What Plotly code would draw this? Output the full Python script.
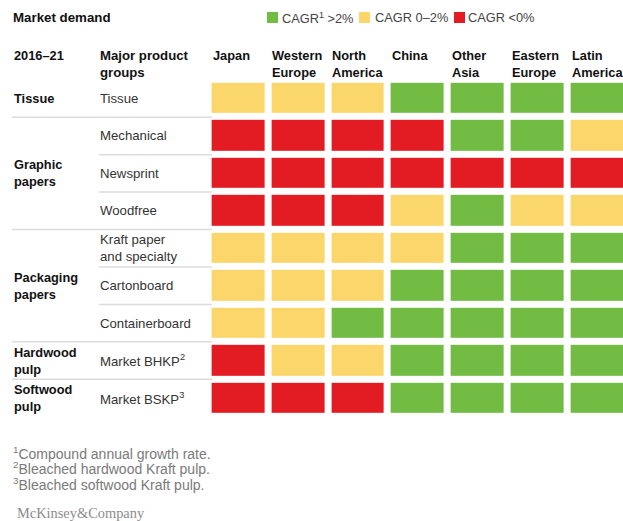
import plotly.graph_objects as go

W, H = 623, 521

# Market demand outlook 2016-21, by product group and region
regions = ["Japan", "Western<br>Europe", "North<br>America", "China",
           "Other<br>Asia", "Eastern<br>Europe", "Latin<br>America"]
products = ["Tissue", "Mechanical", "Newsprint", "Woodfree",
            "Kraft paper<br>and specialty", "Cartonboard", "Containerboard",
            "Market BHKP<sup>2</sup>", "Market BSKP<sup>3</sup>"]
groups = [("Tissue", 0), ("Graphic<br>papers", 2), ("Packaging<br>papers", 5),
          ("Hardwood<br>pulp", 7), ("Softwood<br>pulp", 8)]

# growth class: 0 = CAGR <0%, 1 = CAGR 0-2%, 2 = CAGR >2%
demand = [
    [1, 1, 1, 2, 2, 2, 2],  # Tissue
    [0, 0, 0, 0, 2, 2, 1],  # Mechanical
    [0, 0, 0, 0, 0, 0, 0],  # Newsprint
    [0, 0, 0, 1, 2, 1, 1],  # Woodfree
    [1, 1, 1, 1, 2, 2, 2],  # Kraft paper and specialty
    [1, 1, 1, 2, 2, 2, 2],  # Cartonboard
    [1, 1, 2, 2, 2, 2, 2],  # Containerboard
    [0, 1, 1, 2, 2, 2, 2],  # Market BHKP
    [0, 0, 0, 2, 2, 2, 2],  # Market BSKP
]
legend_labels = ["CAGR<sup>1</sup> >2%", "CAGR 0–2%", "CAGR <0%"]
footnotes = ["<sup>1</sup>Compound annual growth rate.",
             "<sup>2</sup>Bleached hardwood Kraft pulp.",
             "<sup>3</sup>Bleached softwood Kraft pulp."]

RED, YELLOW, GREEN = "#E31B23", "#FAD66B", "#72BC44"
FONT = "Liberation Sans, Arial, sans-serif"

# pixel layout of the grid
col_pitch = 59.83
row_pitch = 37.44
x0_center = 238.5
y0_center = 98.5
grid_left = x0_center - 0.5 * col_pitch
grid_top = y0_center - 0.5 * row_pitch
grid_bottom = grid_top + len(products) * row_pitch
x_range_right = (W - x0_center) / col_pitch


def px(x):
    return x / W


def py(y):
    return 1 - y / H


fig = go.Figure()
fig.add_trace(go.Heatmap(
    z=demand,
    x=list(range(len(regions))),
    y=list(range(len(products))),
    zmin=0, zmax=2,
    colorscale=[[0, RED], [0.333, RED], [0.333, YELLOW], [0.667, YELLOW],
                [0.667, GREEN], [1, GREEN]],
    showscale=False,
    xgap=7, ygap=7,
    hoverinfo="skip",
))

annotations = []
shapes = []


def label(text, x, y, xref="paper", yref="paper", yanchor="middle", size=13,
          color="#333", family=FONT):
    annotations.append(dict(text=text, x=x, y=y, xref=xref, yref=yref,
                            xanchor="left", yanchor=yanchor, showarrow=False,
                            align="left", borderpad=0,
                            font=dict(size=size, color=color, family=family)))


# title and legend
label("<b>Market demand</b>", px(12), py(17.5), size=13.3, color="#111")
legend_pos = [(267, 281, GREEN), (359, 374, YELLOW), (454, 467, RED)]
for (sx, tx, col), lab in zip(legend_pos, legend_labels):
    shapes.append(dict(type="rect", xref="paper", yref="paper",
                       x0=px(sx), x1=px(sx + 11), y0=py(23), y1=py(12),
                       fillcolor=col, line=dict(width=0)))
    label(lab, px(tx), py(17.5), size=12.8, color="#444")

# header row
label("<b>2016–21</b>", px(12.5), py(47), yanchor="top", size=12.8, color="#111")
label("<b>Major product<br>groups</b>", px(98.5), py(47), yanchor="top", size=13.2,
      color="#111")
for i, r in enumerate(regions):
    label(f"<b>{r}</b>", i - 0.45, py(47), xref="x", yanchor="top", size=12.8,
          color="#111")

# row labels
for j, p in enumerate(products):
    label(p, px(98.5), j, yref="y", size=13.2, color="#333")
for g, j in groups:
    label(f"<b>{g}</b>", px(12.5), j, yref="y", size=12.8, color="#111")

# separators: full width between groups, short between products in a group
for b in [0.5, 3.5, 6.5, 7.5]:
    shapes.append(dict(type="line", xref="paper", yref="y", x0=px(12), x1=px(212),
                       y0=b, y1=b, line=dict(color="#dcdcdc", width=1.5)))
for b in [1.5, 2.5, 4.5, 5.5]:
    shapes.append(dict(type="line", xref="paper", yref="y", x0=px(99), x1=px(212),
                       y0=b, y1=b, line=dict(color="#dcdcdc", width=1.5)))

# footnotes and source
for k, f in enumerate(footnotes):
    label(f, px(11.5), py(452.5 + 15.8 * k), size=14, color="#7a7a7a")
label("McKinsey&amp;Company", px(16), py(513), size=14.4, color="#8c8c8c",
      family="Liberation Serif, Times New Roman, serif")

fig.update_layout(
    width=W, height=H,
    margin=dict(l=0, r=0, t=0, b=0),
    paper_bgcolor="white", plot_bgcolor="white",
    xaxis=dict(domain=[px(grid_left), 1], range=[-0.5, x_range_right],
               showgrid=False, zeroline=False, showticklabels=False, fixedrange=True),
    yaxis=dict(domain=[py(grid_bottom), py(grid_top)],
               range=[len(products) - 0.5, -0.5],
               showgrid=False, zeroline=False, showticklabels=False, fixedrange=True),
    annotations=annotations,
    shapes=shapes,
    showlegend=False,
)

fig.write_html("out.html", config={"displayModeBar": False})
